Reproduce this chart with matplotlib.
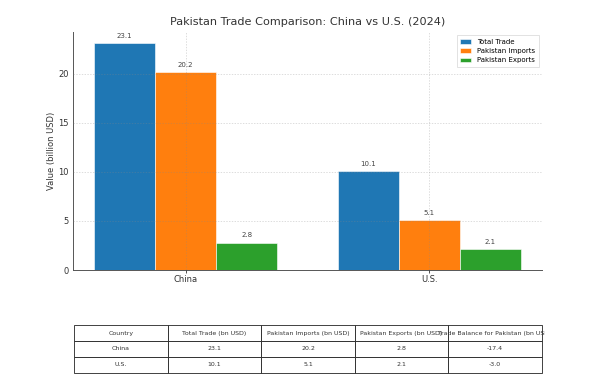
import matplotlib
matplotlib.use("Agg")
import matplotlib.pyplot as plt
from matplotlib.transforms import Bbox
import numpy as np

countries = ["China", "U.S."]
total_trade = [23.1, 10.1]
pk_imports = [20.2, 5.1]
pk_exports = [2.8, 2.1]
trade_balance = [-17.4, -3.0]
series_names = ["Total Trade", "Pakistan Imports", "Pakistan Exports"]
col_labels = ["Country", "Total Trade (bn USD)", "Pakistan Imports (bn USD)",
              "Pakistan Exports (bn USD)", "Trade Balance for Pakistan (bn USD)"]

fig = plt.figure(figsize=(5.93, 3.90), dpi=100)
ax = fig.add_axes([73/593, 1-270/390, (542-73)/593, (270-32)/390])

x = np.arange(len(countries))
w = 0.25
colors = ["#1f77b4", "#ff7f0e", "#2ca02c"]
for i, (vals, name) in enumerate(zip([total_trade, pk_imports, pk_exports], series_names)):
    bars = ax.bar(x + (i - 1) * w, vals, w, label=name, color=colors[i],
                  edgecolor="white", linewidth=0.4, zorder=2)
    ax.bar_label(bars, labels=[f"{v:.1f}" for v in vals], padding=3,
                 fontsize=5, color="#444444")

ax.set_xticks(x)
ax.set_xticklabels(countries, fontsize=6, color="#222222")
ax.tick_params(axis="y", labelsize=6, colors="#333333", length=0, pad=3)
ax.tick_params(axis="x", length=2.5, width=0.6, pad=1, colors="#333333")
ax.set_ylabel("Value (billion USD)", fontsize=6, color="#333333", labelpad=2)
ax.set_title("Pakistan Trade Comparison: China vs U.S. (2024)", fontsize=8.1,
             color="#333333", pad=5)
ax.grid(True, linestyle=(0, (2, 2)), linewidth=0.5, color="#888888", alpha=0.4, zorder=3)
ax.set_axisbelow(False)
for s in ["top", "right"]:
    ax.spines[s].set_visible(False)
for s in ["left", "bottom"]:
    ax.spines[s].set_color("#555555")
    ax.spines[s].set_linewidth(0.7)
leg = ax.legend(loc="upper right", fontsize=5, frameon=True, fancybox=False,
                edgecolor="#cccccc", handlelength=1.6, handleheight=0.6,
                borderpad=0.5, labelspacing=0.45)
leg.get_frame().set_linewidth(0.5)

cell_text = [[c, f"{t:.1f}", f"{im:.1f}", f"{ex:.1f}", f"{b:.1f}"]
             for c, t, im, ex, b in zip(countries, total_trade, pk_imports, pk_exports, trade_balance)]
tbl = ax.table(cellText=cell_text, colLabels=col_labels, cellLoc="center",
               bbox=[0.002, (270-373)/238, 0.998, 48/238])
tbl.auto_set_font_size(False)
tbl.set_fontsize(4.5)
clip = Bbox([[0, 0], [545, 390]])
for (r, c), cell in tbl.get_celld().items():
    cell.set_edgecolor("#222222")
    cell.set_linewidth(0.6)
    t = cell.get_text()
    t.set_color("#333333")
    t.set_clip_box(clip)
    t.set_clip_on(True)

fig.savefig("out.png", dpi=100, facecolor="white")
